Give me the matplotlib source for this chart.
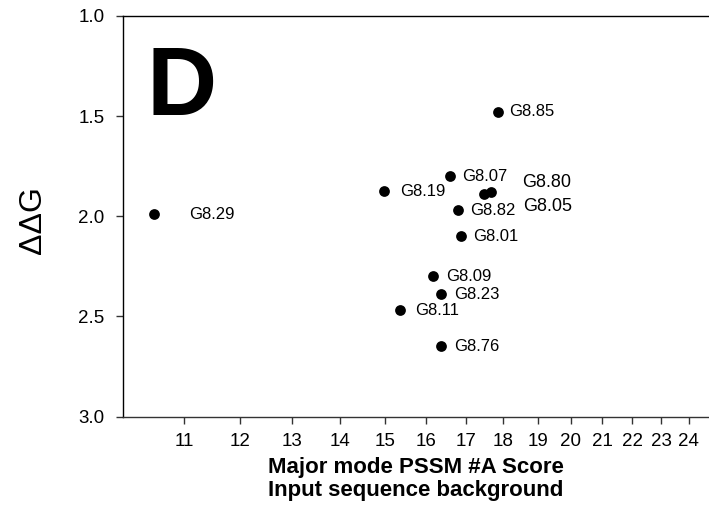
import matplotlib
matplotlib.use("Agg")
import matplotlib.pyplot as plt
from matplotlib.ticker import FixedLocator, NullLocator, FixedFormatter

plt.rcParams['font.family'] = ['Liberation Sans', 'DejaVu Sans']

# Data
names = ["G8.29", "G8.19", "G8.07", "G8.85", "G8.80", "G8.05", "G8.82",
         "G8.01", "G8.09", "G8.23", "G8.11", "G8.76"]
pssm_score = [10.50, 14.98, 16.59, 17.88, 17.69, 17.49, 16.79,
              16.87, 16.17, 16.37, 15.35, 16.37]
ddg = [1.99, 1.875, 1.80, 1.478, 1.878, 1.887, 1.97,
       2.10, 2.30, 2.39, 2.47, 2.65]
x_ticks = list(range(11, 25))
y_ticks = [1.0, 1.5, 2.0, 2.5, 3.0]
y_tick_labels = ["1.0", "1.5", "2.0", "2.5", "3.0"]

# label offsets in points (layout only)
label_offsets = [(25, 0), (11.5, 0), (9, 0), (8, 0), (22.5, 6.5), (28, -9.6), (9, 0),
                 (9, 0), (9.5, 0), (9.5, 0), (11, 0), (9.5, 0)]
label_sizes = [12, 12, 12, 12, 13, 13, 12, 12, 12, 12, 12, 12]

W, H = 709, 512
fig = plt.figure(figsize=(W / 100, H / 100), dpi=100)
ax = fig.add_axes([122.5 / W, (H - 416.5) / H, (715 - 122.5) / W, (416.5 - 16) / H])

ax.set_xscale('log')
ax.scatter(pssm_score, ddg, s=60, color='black', zorder=3, linewidths=0)
for n, xv, yv, off, fs in zip(names, pssm_score, ddg, label_offsets, label_sizes):
    ax.annotate(n, (xv, yv), xytext=off, textcoords='offset points',
                ha='left', va='center', fontsize=fs)

ax.set_xlim(10, 25)
ax.set_ylim(3.0, 1.0)
ax.xaxis.set_major_locator(FixedLocator(x_ticks))
ax.xaxis.set_major_formatter(FixedFormatter([str(t) for t in x_ticks]))
ax.xaxis.set_minor_locator(NullLocator())
ax.yaxis.set_major_locator(FixedLocator(y_ticks))
ax.yaxis.set_major_formatter(FixedFormatter(y_tick_labels))
ax.yaxis.set_minor_locator(NullLocator())

ax.tick_params(axis='both', direction='out', length=5, width=1, color='#333333')
ax.tick_params(axis='y', labelsize=13.5, pad=8)
ax.tick_params(axis='x', labelsize=13.5, pad=7)
ax.spines['right'].set_visible(False)
for s in ['left', 'bottom', 'top']:
    ax.spines[s].set_linewidth(1)
    ax.spines[s].set_color('#333333')
ax.spines['top'].set_color('black')
ax.spines['left'].set_color('black')

fig.text(182 / W, 1 - 115 / H, "D", fontsize=70, fontweight='bold',
         ha='center', va='baseline')
fig.text(33 / W, 1 - 220 / H, "\u0394\u0394G", fontsize=23, rotation=90,
         ha='center', va='center')
fig.text(416 / W, 1 - 479 / H, "Major mode PSSM #A Score\nInput sequence background",
         fontsize=16, fontweight='bold', ha='center', va='center', linespacing=1.15)

fig.savefig("out.png", dpi=100)
